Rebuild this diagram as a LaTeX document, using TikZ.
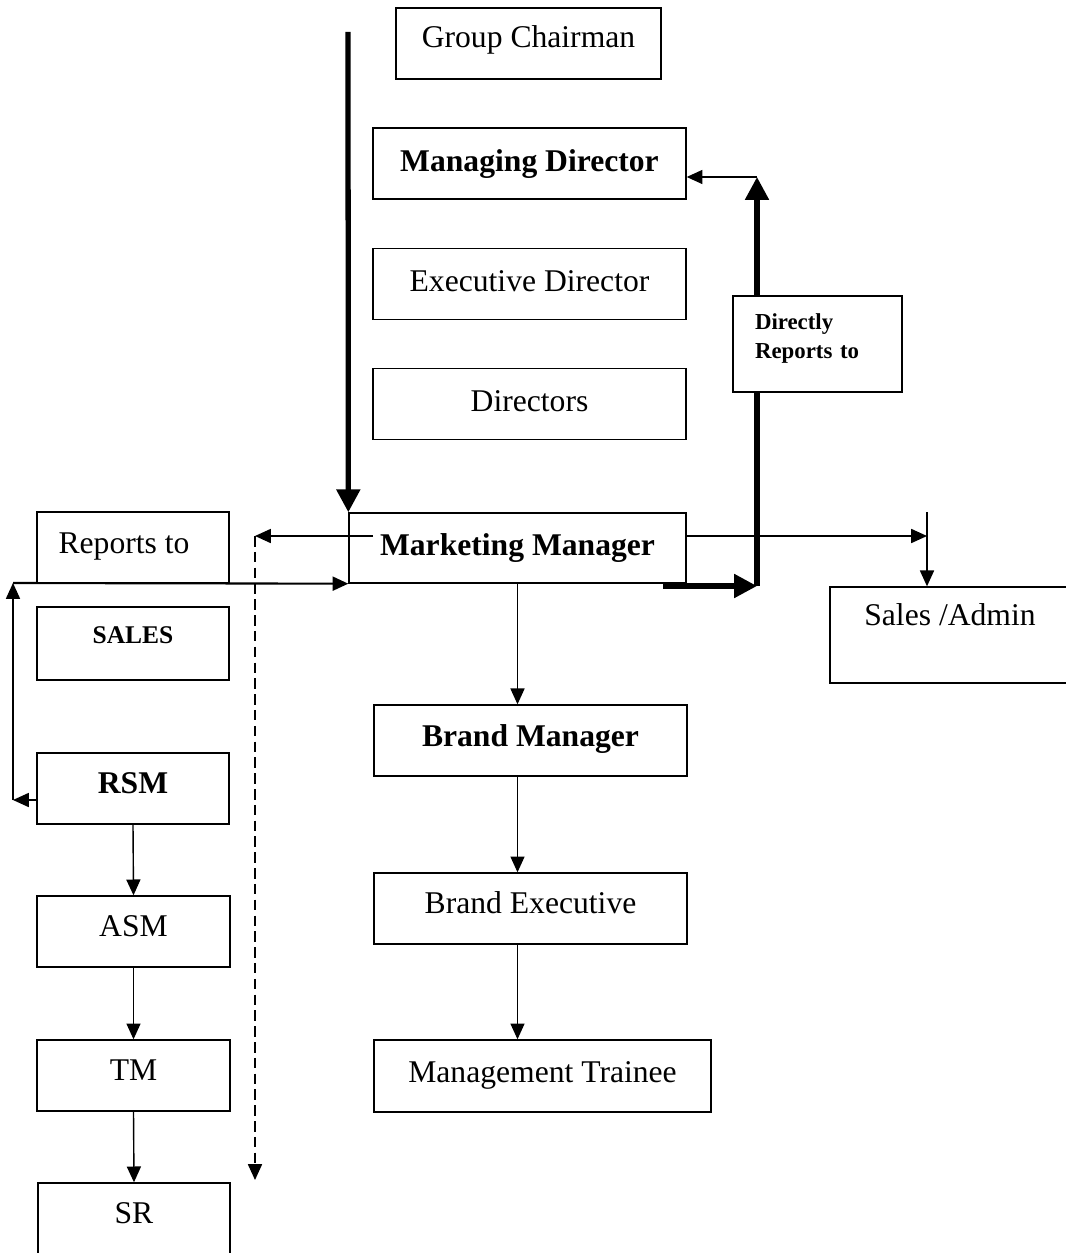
\documentclass[tikz,border=0pt]{standalone}
\usepackage{fontspec}
\setmainfont{Liberation Serif}
\usepackage{tikz}
\usetikzlibrary{arrows.meta, positioning, calc}

\tikzset{
  box/.style={draw, line width=0.8pt, minimum height=1.42cm, inner sep=2pt,
              font=\fontsize{18}{21}\selectfont, text height=13pt, text depth=4pt},
  arr/.style={line width=0.8pt, -{Triangle[length=9pt,width=8pt]}},
  bigarr/.style={line width=3pt, -{Triangle[length=13pt,width=13pt]}},
}

\begin{document}
\begin{tikzpicture}[x=0.02cm, y=-0.02cm]
  \useasboundingbox (0,0) rectangle (1065,1253);

  % top of the company
  \node[box, minimum width=5.3cm, text depth=8pt] (gc) at (528.5,43.5) {Group Chairman};
  \node[box, minimum width=6.26cm, font=\fontsize{18}{21}\bfseries] (md) at (529.5,163.5) {Managing Director};
  \node[box, minimum width=6.26cm] (ed) at (529.5,284) {Executive Director};
  \node[box, minimum width=6.26cm] (dir) at (529.5,404) {Directors};
  \node[box, minimum width=6.74cm, minimum height=1.4cm, font=\fontsize{18}{21}\bfseries] (mm) at (517.5,548) {Marketing Manager};

  % sales side
  \node[box, minimum width=3.84cm, text depth=6pt] (rep) at (133,547.5) {Reports to\kern0.36cm};
  \node[box, minimum width=3.84cm, minimum height=1.46cm, text depth=13pt,
        font=\fontsize{14.5}{17}\bfseries] (sales) at (133,643.5) {SALES};
  \node[box, minimum width=3.84cm, text depth=7pt, font=\fontsize{18}{21}\bfseries] (rsm) at (133,788.5) {RSM};
  \node[box, minimum width=3.86cm, text depth=7pt] (asm) at (133.5,931.5) {ASM};
  \node[box, minimum width=3.86cm, text depth=7pt] (tm) at (133.5,1075.5) {TM};
  \node[box, minimum width=3.84cm, text depth=7pt] (sr) at (134,1218.5) {SR};

  % brand side
  \node[box, minimum width=6.26cm, text depth=6pt, font=\fontsize{18}{21}\bfseries] (bm) at (530.5,740.5) {Brand Manager};
  \node[box, minimum width=6.26cm, text depth=7pt] (be) at (530.5,908.5) {Brand Executive};
  \node[box, minimum width=6.74cm, minimum height=1.44cm, text depth=6pt] (mt) at (542.5,1076) {Management Trainee};
  \node[box, minimum width=4.8cm, minimum height=1.92cm, text depth=24pt] (sa) at (950,635) {Sales /Admin};

  % points the connectors turn at
  \coordinate (downtop) at (348,32);
  \coordinate (mmleft) at (373,536);
  \coordinate (dashtop) at (255,536);
  \coordinate (dashend) at (255,1180);
  \coordinate (loopleft) at (13,800);
  \coordinate (looptop) at (13,583);
  \coordinate (mmbr) at (663,586);
  \coordinate (corner) at (757,586);
  \coordinate (uptop) at (757,177);
  \coordinate (saturn) at (927,536);
  \coordinate (sadrop) at (927,512);

  \draw[bigarr] (downtop) -- (mm.north west);
  \draw[arr] (mmleft) -- (dashtop);
  \draw[arr, dash pattern=on 6pt off 3pt] (dashtop) -- (dashend);
  \draw[arr] (rsm.west |- loopleft) -- (loopleft);
  \draw[arr] (loopleft) -- (looptop);
  \draw[arr, line width=1.2pt] (looptop) -- (mm.south west);

  \draw[bigarr] (mmbr) -- (corner);
  \draw[bigarr] (corner) -- (uptop);
  \draw[arr] (uptop) -- (uptop -| md.east);
  \node[box, minimum width=3.38cm, minimum height=1.92cm, fill=white, text width=2.5cm,
        align=left, text depth=29pt, font=\fontsize{13}{16}\bfseries] (drt) at (817.5,344) {Directly\\Reports to};

  \draw[arr] (mm.east |- saturn) -- (saturn);
  \draw[arr] (sadrop) -- (sadrop |- sa.north);

  \draw[arr] (mm.south) -- (mm.south |- bm.north);
  \draw[arr] (mm.south |- bm.south) -- (mm.south |- be.north);
  \draw[arr] (mm.south |- be.south) -- (mm.south |- mt.north);

  \draw[arr] (rsm.south) -- (asm.north);
  \draw[arr] (asm.south) -- (tm.north);
  \draw[arr] (tm.south) -- (sr.north);
\end{tikzpicture}
\end{document}
